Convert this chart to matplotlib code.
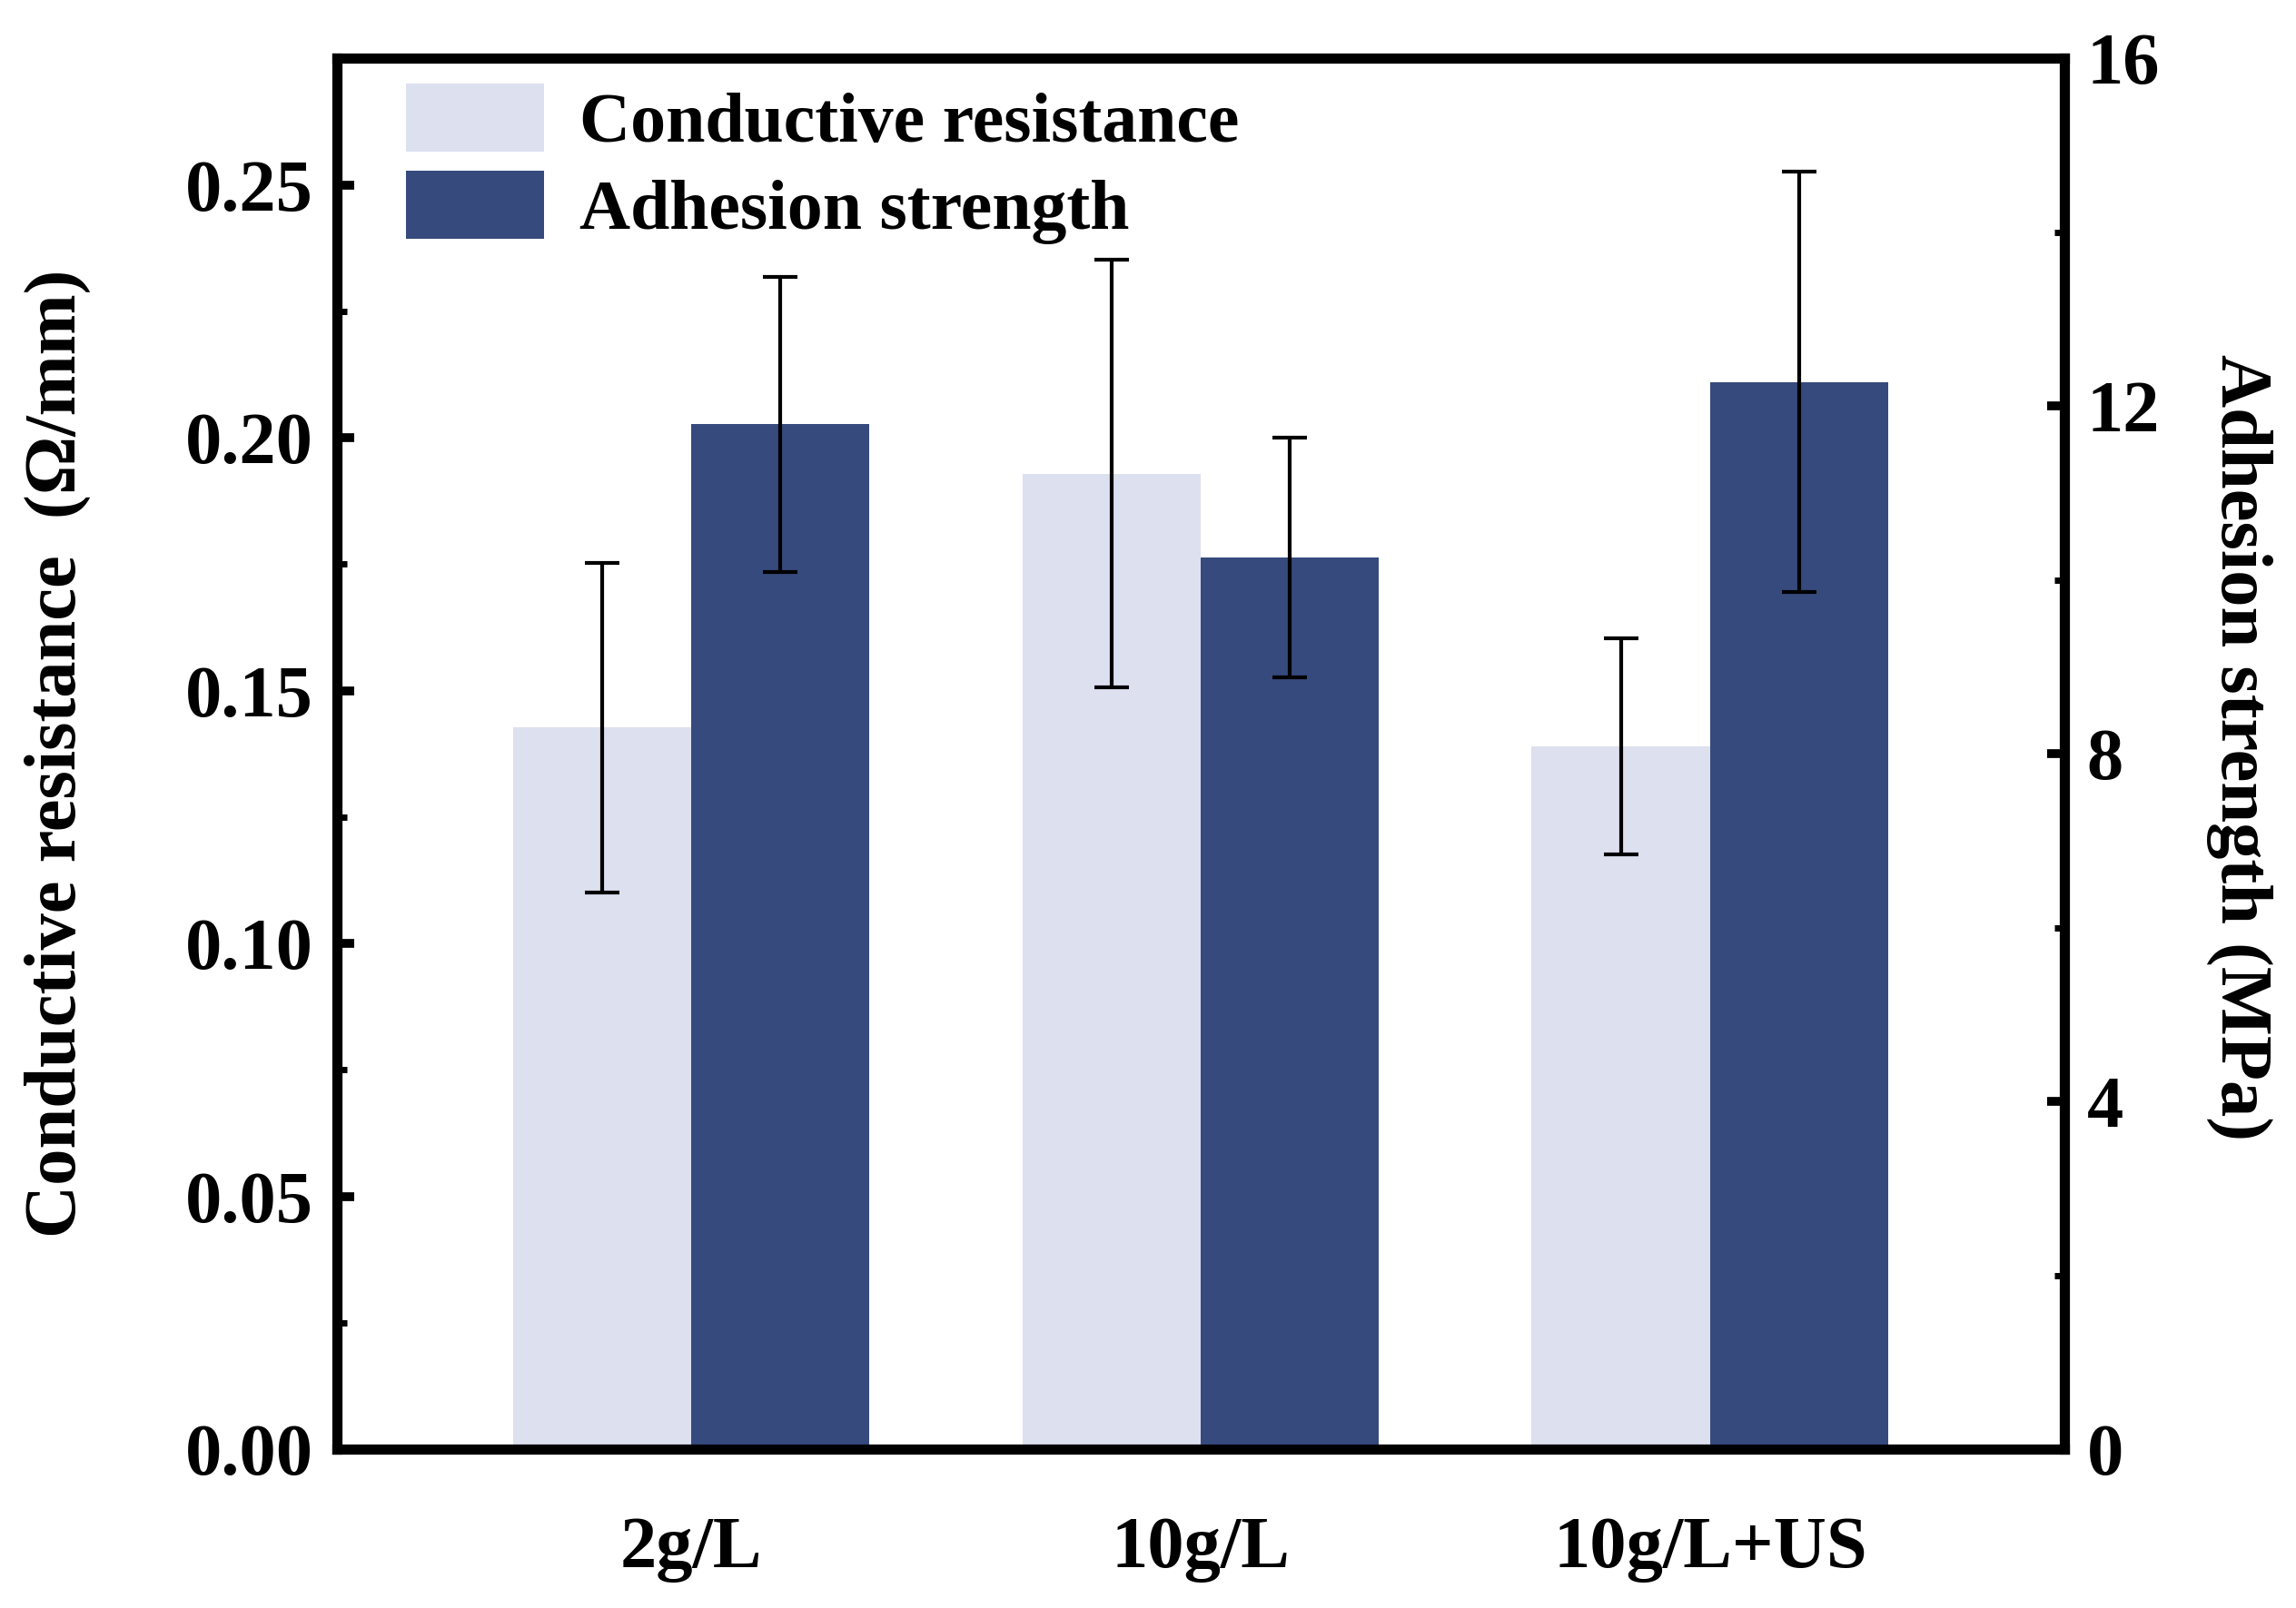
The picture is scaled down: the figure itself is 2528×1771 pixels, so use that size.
import matplotlib
matplotlib.use("Agg")
import matplotlib.pyplot as plt
import numpy as np
from matplotlib.ticker import MultipleLocator, FormatStrFormatter
from matplotlib.patches import Patch

categories = ["2g/L", "10g/L", "10g/L+US"]
resistance = [0.1427, 0.1929, 0.1390]
resistance_err = [0.0326, 0.0423, 0.0213]
adhesion = [11.79, 10.26, 12.28]
adhesion_err = [1.70, 1.38, 2.42]

light = "#DCE0EF"
dark = "#364A7D"

plt.rcParams['font.family'] = ['Liberation Serif', 'DejaVu Serif']
plt.rcParams['font.weight'] = 'bold'
FS_TICK = 58
FS_LAB = 58
FS_LEG = 56

fig = plt.figure(figsize=(25.28, 17.71), dpi=100)
ax = fig.add_axes([0.1468, 0.0988, 0.899 - 0.1468, 0.9636 - 0.0988])
ax2 = ax.twinx()

x = np.arange(len(categories))
w = 0.35
ax.bar(x - w / 2, resistance, w, color=light, edgecolor='none', zorder=2)
ax.errorbar(x - w / 2, resistance, yerr=resistance_err, fmt='none', ecolor='black',
            elinewidth=3, capsize=14, capthick=3, zorder=3)
ax2.bar(x + w / 2, adhesion, w, color=dark, edgecolor='none', zorder=2)
ax2.errorbar(x + w / 2, adhesion, yerr=adhesion_err, fmt='none', ecolor='black',
             elinewidth=3, capsize=14, capthick=3, zorder=3)

ax.set_xlim(-0.695, 2.695)
ax.set_ylim(0, 0.275)
ax2.set_ylim(0, 16)

ax.set_xticks(x)
ax.set_xticklabels(categories, fontsize=FS_TICK, fontweight='bold')
ax.yaxis.set_major_locator(MultipleLocator(0.05))
ax.yaxis.set_minor_locator(MultipleLocator(0.025))
ax.yaxis.set_major_formatter(FormatStrFormatter('%.2f'))
ax2.yaxis.set_major_locator(MultipleLocator(4))
ax2.yaxis.set_minor_locator(MultipleLocator(2))

ax.tick_params(axis='y', which='major', direction='in', length=14, width=7,
               labelsize=FS_TICK, pad=19, right=False)
ax.tick_params(axis='y', which='minor', direction='in', length=8, width=5, right=False)
ax.tick_params(axis='x', which='major', direction='in', length=16, width=4,
               labelsize=FS_TICK, pad=53, top=False)
ax2.tick_params(axis='y', which='major', direction='in', length=14, width=7,
                labelsize=FS_TICK, pad=18, left=False)
ax2.tick_params(axis='y', which='minor', direction='in', length=8, width=5, left=False)
for lab in ax.get_yticklabels() + ax2.get_yticklabels():
    lab.set_fontweight('bold')

for a in (ax, ax2):
    for s in a.spines.values():
        s.set_linewidth(8)

ax.text(-0.162, 0.5, "Conductive resistance  (\u03a9/mm)", transform=ax.transAxes,
        rotation=90, ha='center', va='center', fontsize=FS_LAB, fontweight='bold')
ax.text(1.1015, 0.505, "Adhesion strength (MPa)", transform=ax.transAxes,
        rotation=-90, ha='center', va='center', fontsize=FS_LAB, fontweight='bold')

handles = [Patch(facecolor=light, edgecolor='none'), Patch(facecolor=dark, edgecolor='none')]
ax2.legend(handles, ["Conductive resistance", "Adhesion strength"], loc='upper left',
           bbox_to_anchor=(0.04, 0.982), borderpad=0, borderaxespad=0, frameon=False,
           handlelength=1.95, handleheight=1.1, handletextpad=0.5, labelspacing=0.2,
           prop={'size': FS_LEG, 'weight': 'bold'})

fig.savefig("out.png", dpi=100)
